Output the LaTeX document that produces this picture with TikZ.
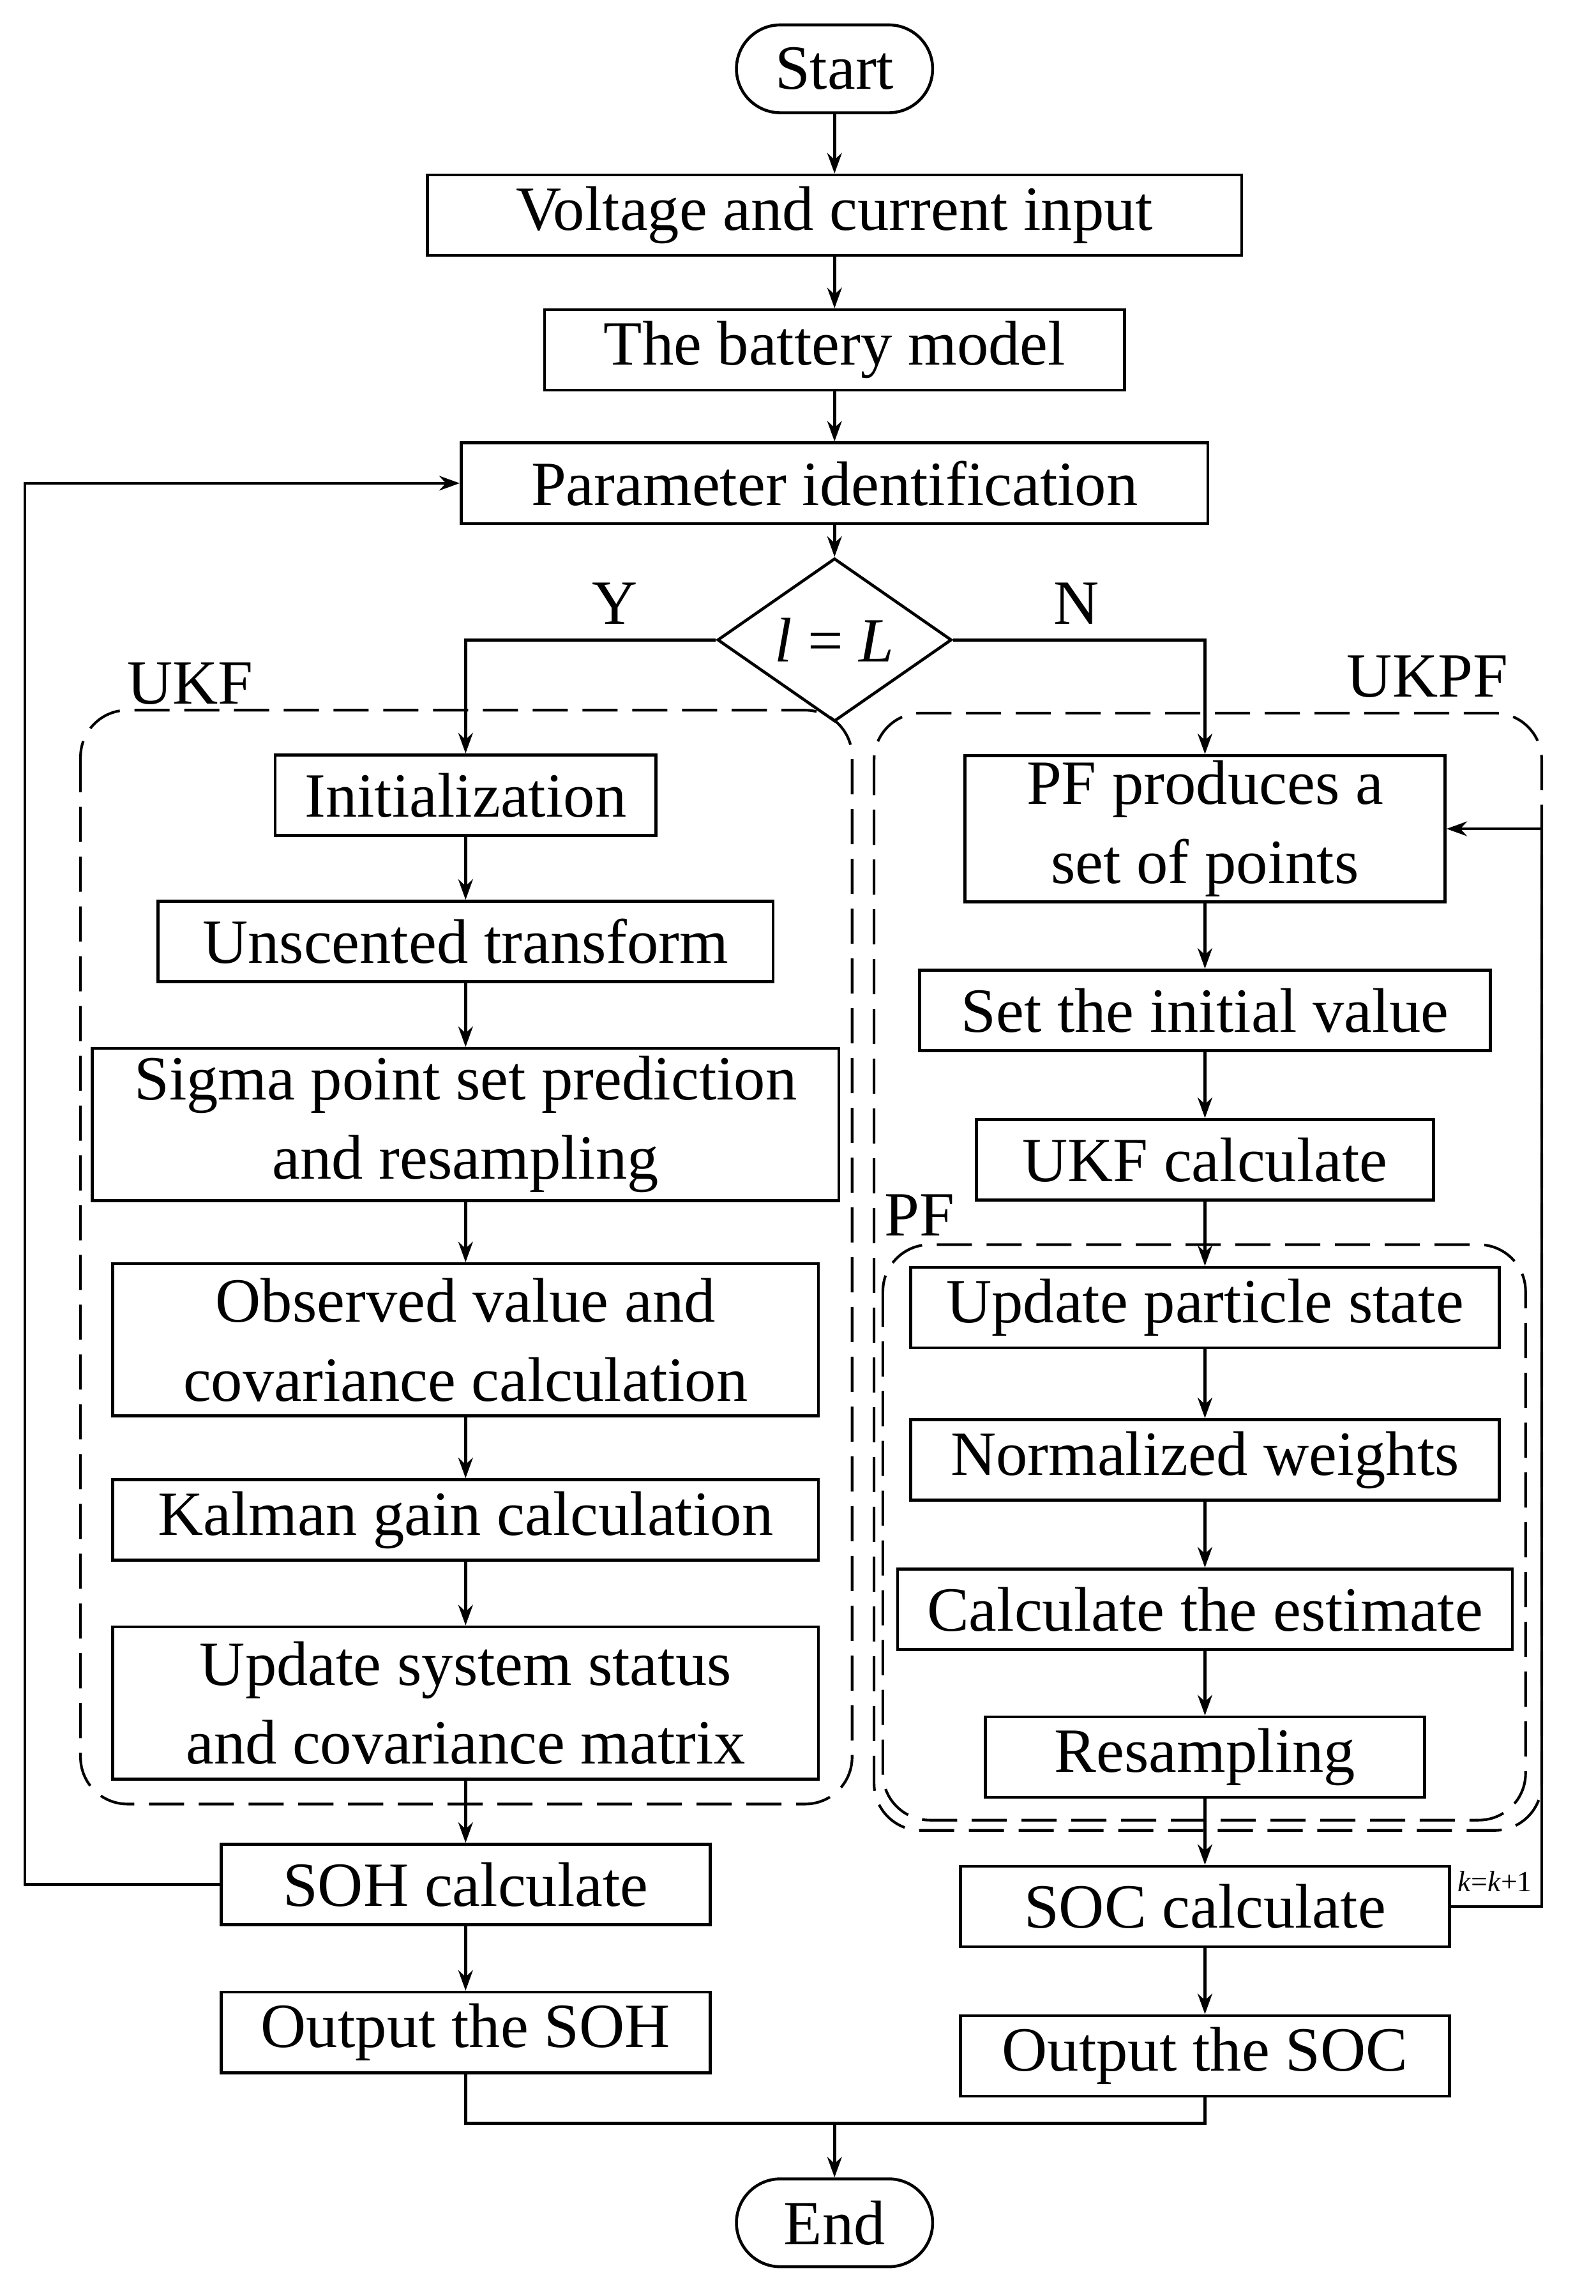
\documentclass[tikz,border=0pt]{standalone}
\usepackage{fontspec}
\setmainfont{Liberation Serif}
\usetikzlibrary{shapes.geometric,arrows.meta}
\begin{document}
\begin{tikzpicture}[x=0.5pt,y=-0.5pt,
  font=\fontsize{21.5}{27}\selectfont,
  line width=1pt,
  bx/.style={draw,rectangle,align=center,inner sep=0pt,minimum height=27.5pt},
  term/.style={draw,rounded corners=15pt,minimum width=67pt,minimum height=30pt,inner sep=0pt},
  arr/.style={-{Stealth[length=7pt,width=5pt]}},
  dsh/.style={dash pattern=on 12pt off 5pt,rounded corners=16pt,line width=0.9pt}]
\useasboundingbox (0,0) rectangle (1090,1568);
\node[term] (start) at (570,47) {Start};
\node[bx,minimum width=278pt] (vc) at (570,147) {Voltage and current input};
\node[bx,minimum width=198pt] (bm) at (570,239) {The battery model};
\node[bx,minimum width=255pt] (pi) at (570,330) {Parameter identification};
\node[draw,diamond,minimum width=80pt,minimum height=33pt,inner sep=0pt] (dm) at (570,437) {\textit{l} = \textit{L}};
\node at (420,412) {Y};
\node at (735,412) {N};
% UKF side
\node[bx,minimum width=130pt] (l1) at (318,543) {Initialization};
\node[bx,minimum width=210pt] (l2) at (318,643) {Unscented transform};
\node[bx,minimum width=255pt,minimum height=52pt] (l3) at (318,768) {Sigma point set prediction\\and resampling};
\node[bx,minimum width=241pt,minimum height=52pt] (l4) at (318,915) {Observed value and\\covariance calculation};
\node[bx,minimum width=241pt] (l5) at (318,1038) {Kalman gain calculation};
\node[bx,minimum width=241pt,minimum height=52pt] (l6) at (318,1163) {Update system status\\and covariance matrix};
\node[bx,minimum width=167pt] (soh) at (318,1287) {SOH calculate};
\node[bx,minimum width=167pt] (osoh) at (318,1388) {Output the SOH};
% UKPF side
\node[bx,minimum width=164pt,minimum height=50pt] (r1) at (823,566) {PF produces a\\set of points};
\node[bx,minimum width=195pt] (r2) at (823,690) {Set the initial value};
\node[bx,minimum width=156pt] (r3) at (823,792) {UKF calculate};
\node[bx,minimum width=201pt] (r4) at (823,893) {Update particle state};
\node[bx,minimum width=201pt] (r5) at (823,997) {Normalized weights};
\node[bx,minimum width=210pt] (r6) at (823,1099) {Calculate the estimate};
\node[bx,minimum width=150pt] (r7) at (823,1200) {Resampling};
\node[bx,minimum width=167pt] (soc) at (823,1302) {SOC calculate};
\node[bx,minimum width=167pt] (osoc) at (823,1404) {Output the SOC};
\node[term] (end) at (570,1518) {End};
% dashed groups
\draw[dsh] (55,485) rectangle (582,1232);
\node at (130,467) {UKF};
\draw[dsh] (597,487) rectangle (1053,1250);
\node at (975,462) {UKPF};
\draw[dsh] (603,850) rectangle (1042,1243);
\node at (628,830) {PF};
% arrows main
\draw[arr] (start) -- (vc);
\draw[arr] (vc) -- (bm);
\draw[arr] (bm) -- (pi);
\draw[arr] (pi) -- (dm);
\draw[arr] (dm.west) -| (l1.north);
\draw[arr] (dm.east) -| (r1.north);
\draw[arr] (l1) -- (l2);
\draw[arr] (l2) -- (l3);
\draw[arr] (l3) -- (l4);
\draw[arr] (l4) -- (l5);
\draw[arr] (l5) -- (l6);
\draw[arr] (l6) -- (soh);
\draw[arr] (soh) -- (osoh);
\draw[arr] (r1) -- (r2);
\draw[arr] (r2) -- (r3);
\draw[arr] (r3) -- (r4);
\draw[arr] (r4) -- (r5);
\draw[arr] (r5) -- (r6);
\draw[arr] (r6) -- (r7);
\draw[arr] (r7) -- (soc);
\draw[arr] (soc) -- (osoc);
\coordinate (mg) at (570,1450);
\draw (osoh.south) |- (mg) -| (osoc.south);
\draw[arr] (mg) -- (end);
% feedback
\coordinate (fl) at (17,1287);
\draw[arr] (soh.west) -- (fl) |- (pi.west);
\coordinate (fr) at (1053,1302);
\draw[arr] (soc.east) -- (fr) |- (r1.east);
\node[font=\fontsize{10}{12}\selectfont] at (1021,1285) {\textit{k}=\textit{k}+1};
\end{tikzpicture}
\end{document}
